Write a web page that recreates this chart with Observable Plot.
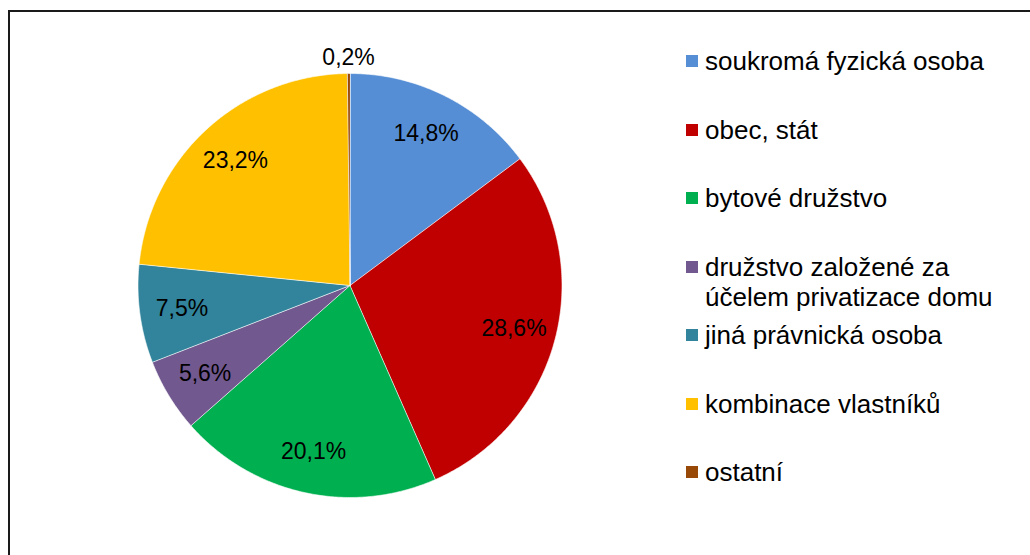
<!DOCTYPE html>
<html>
<head>
<meta charset="utf-8">
<script src="https://cdn.jsdelivr.net/npm/d3@7"></script>
<script src="https://cdn.jsdelivr.net/npm/@observablehq/plot@0.6"></script>
<style>
  html, body { margin: 0; padding: 0; background: #fff; overflow: hidden; width: 1030px; height: 555px; }
  body { position: relative; font-family: "Liberation Sans", Arial, sans-serif; }
  #frame { position: absolute; left: 8px; top: 10px; width: 1100px; height: 700px; border: 2px solid #1a1a1a; box-sizing: border-box; }
  #chart { position: absolute; left: 0; top: 0; }
  .leg { position: absolute; left: 686px; font-size: 26px; color: #000; line-height: 30px; white-space: nowrap; }
  .leg .sw { position: absolute; left: 0; top: 9px; width: 12px; height: 12px; }
  .leg .tx { position: absolute; left: 19px; top: 0; }
</style>
</head>
<body>
<div id="frame"></div>
<div id="chart"></div>
<script>
// ---- data ----
const categories = [
  "soukromá fyzická osoba",
  "obec, stát",
  "bytové družstvo",
  "družstvo založené za\núčelem privatizace domu",
  "jiná právnická osoba",
  "kombinace vlastníků",
  "ostatní"
];
const shares = [14.8, 28.6, 20.1, 5.6, 7.5, 23.2, 0.2];
const labels = ["14,8%", "28,6%", "20,1%", "5,6%", "7,5%", "23,2%", "0,2%"];
const colors = ["#558ED5", "#C00000", "#00B050", "#71588F", "#31849B", "#FFC000", "#984807"];

// ---- geometry derived from data ----
const total = d3.sum(shares);
const slices = [];
const pts = [];
let acc = 0;
shares.forEach((v, i) => {
  const a0 = acc / total * 2 * Math.PI;
  acc += v;
  const a1 = acc / total * 2 * Math.PI;
  const key = categories[i];
  pts.push({key, x: 0, y: 0});
  const n = Math.max(2, Math.ceil((a1 - a0) / (Math.PI / 360)));
  for (let k = 0; k <= n; k++) {
    const a = a0 + (a1 - a0) * k / n;
    pts.push({key, x: Math.sin(a), y: Math.cos(a)});
  }
  const am = (a0 + a1) / 2;
  const r = v < 1 ? 1.075 : 0.8;
  slices.push({key, label: labels[i], x: r * Math.sin(am), y: r * Math.cos(am)});
});

const cx = 349.5, cy = 285, R = 212;
const plot = Plot.plot({
  width: 1030,
  height: 555,
  margin: 0,
  x: {domain: [-1, 1], range: [cx - R, cx + R], axis: null},
  y: {domain: [-1, 1], range: [cy + R, cy - R], axis: null},
  color: {domain: categories, range: colors},
  style: {background: "transparent", fontFamily: "'Liberation Sans', Arial, sans-serif"},
  marks: [
    Plot.line(pts, {x: "x", y: "y", z: "key", fill: "key", stroke: "white", strokeWidth: 0.6, curve: "linear-closed"}),
    Plot.text(slices, {x: "x", y: "y", text: "label", fontSize: 23, fill: "black"})
  ]
});
document.getElementById("chart").appendChild(plot);

// ---- legend ----
categories.forEach((c, i) => {
  const d = document.createElement("div");
  d.className = "leg";
  d.style.top = (61 + i * 68.5 - 15) + "px";
  const sw = document.createElement("div");
  sw.className = "sw";
  sw.style.background = colors[i];
  const tx = document.createElement("div");
  tx.className = "tx";
  tx.innerHTML = c.split("\n").join("<br>");
  d.appendChild(sw);
  d.appendChild(tx);
  document.body.appendChild(d);
});
</script>
</body>
</html>
